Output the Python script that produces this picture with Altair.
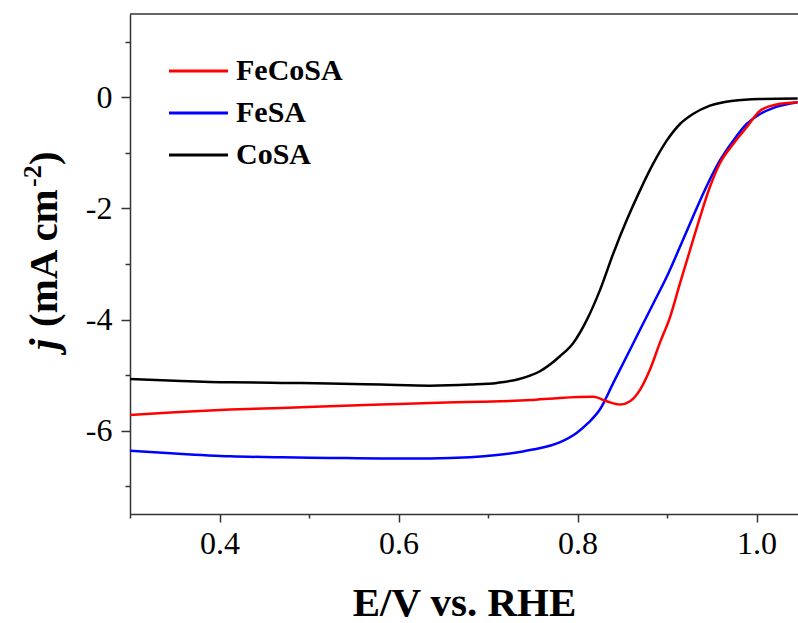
import altair as alt
import pandas as pd

# ---- data ----
co_E = [0.300, 0.350, 0.412, 0.470, 0.523, 0.580, 0.635, 0.680, 0.710, 0.735, 0.758, 0.7804, 0.7953, 0.8103, 0.8251, 0.840, 0.855, 0.870, 0.8847, 0.8997, 0.9145, 0.929, 0.948, 0.974, 1.004, 1.046]
co_j = [-5.07, -5.10, -5.13, -5.14, -5.15, -5.17, -5.19, -5.17, -5.14, -5.07, -4.93, -4.66, -4.42, -4.01, -3.47, -2.81, -2.21, -1.67, -1.19, -0.78, -0.48, -0.30, -0.15, -0.06, -0.03, -0.02]

fe_E = [0.300, 0.350, 0.412, 0.470, 0.523, 0.580, 0.635, 0.680, 0.710, 0.750, 0.780, 0.799, 0.812, 0.825, 0.840, 0.855, 0.870, 0.8847, 0.8997, 0.9145, 0.929, 0.944, 0.959, 0.974, 0.989, 1.004, 1.019, 1.046]
fe_j = [-6.36, -6.41, -6.46, -6.48, -6.49, -6.50, -6.50, -6.48, -6.44, -6.34, -6.21, -6.04, -5.86, -5.62, -5.14, -4.66, -4.18, -3.71, -3.23, -2.69, -2.15, -1.61, -1.14, -0.78, -0.48, -0.30, -0.19, -0.09]

feco_E = [0.300, 0.350, 0.412, 0.470, 0.523, 0.580, 0.635, 0.690, 0.747, 0.7804, 0.8177, 0.8326, 0.8475, 0.8587, 0.870, 0.881, 0.892, 0.9035, 0.9145, 0.9257, 0.937, 0.948, 0.959, 0.974, 0.989, 1.004, 1.022, 1.046]
feco_j = [-5.72, -5.67, -5.62, -5.59, -5.56, -5.53, -5.50, -5.48, -5.45, -5.41, -5.39, -5.47, -5.53, -5.47, -5.26, -4.90, -4.42, -3.95, -3.35, -2.75, -2.15, -1.61, -1.19, -0.84, -0.54, -0.24, -0.13, -0.09]

series_names = ["FeCoSA", "FeSA", "CoSA"]
series_colors = ["#ff0000", "#0000ff", "#000000"]

x_ticks = [0.3, 0.4, 0.5, 0.6, 0.7, 0.8, 0.9, 1.0]
y_ticks = [-7, -6, -5, -4, -3, -2, -1, 0, 1]

# ---- build table ----
rows = []
for name, E, J in [("CoSA", co_E, co_j), ("FeSA", fe_E, fe_j), ("FeCoSA", feco_E, feco_j)]:
    for i, (e, j) in enumerate(zip(E, J)):
        rows.append({"series": name, "E": e, "j": j, "i": i})
df = pd.DataFrame(rows)

W, H = 668, 500
FONT = "Liberation Serif"

x_axis = alt.Axis(
    values=x_ticks,
    labelExpr="round(datum.value*10) % 2 == 0 ? format(datum.value, '.1f') : ''",
    tickSize={"condition": {"test": "round(datum.value*10) % 2 == 0", "value": 8}, "value": 4},
    labelFont=FONT, labelFontSize=32, labelColor="black", labelPadding=6,
    domainColor="#333", domainWidth=1.5, tickColor="#333", tickWidth=1.5,
    grid=False,
    title="E/V vs. RHE", titleFont=FONT, titleFontSize=41, titleFontWeight="bold",
    titleColor="black", titleX=W / 2, titleY=101, titleBaseline="alphabetic", titleAlign="center",
)
y_axis = alt.Axis(
    values=y_ticks,
    labelExpr="datum.value % 2 == 0 ? '' + datum.value : ''",
    tickSize={"condition": {"test": "datum.value % 2 == 0", "value": 9}, "value": 5},
    labelFont=FONT, labelFontSize=32, labelColor="black", labelPadding=9,
    domainColor="#333", domainWidth=1.5, tickColor="#333", tickWidth=1.5,
    grid=False, title=None,
)

lines = alt.Chart(df).mark_line(strokeWidth=2.5, interpolate="monotone", clip=True).encode(
    x=alt.X("E:Q", scale=alt.Scale(domain=[0.3, 0.3 + W / 895.0], nice=False, zero=False), axis=x_axis),
    y=alt.Y("j:Q", scale=alt.Scale(domain=[-7.5, 1.5], nice=False, zero=False), axis=y_axis),
    color=alt.Color("series:N", scale=alt.Scale(domain=series_names, range=series_colors), legend=None),
    order="i:Q",
)

one = pd.DataFrame({"a": [0]})
top_border = alt.Chart(one).mark_rule(color="#333", strokeWidth=1.5).encode(
    x=alt.value(0), x2=alt.value(W), y=alt.value(0)
)

layers = [lines, top_border]

# legend
for k, (name, col) in enumerate(zip(series_names, series_colors)):
    yy = 57 + 42 * k
    layers.append(alt.Chart(one).mark_rule(color=col, strokeWidth=3).encode(
        x=alt.value(39), x2=alt.value(98), y=alt.value(yy)))
    layers.append(alt.Chart(one).mark_text(
        align="left", baseline="middle", font=FONT, fontSize=30, fontWeight="bold", color="black"
    ).encode(x=alt.value(106), y=alt.value(yy), text=alt.value(name)))

# y axis title pieces (rotated)
yt = dict(angle=270, align="left", baseline="alphabetic", font=FONT, fontWeight="bold", color="black")
layers.append(alt.Chart(one).mark_text(fontSize=41, fontStyle="italic", **yt).encode(
    x=alt.value(-73), y=alt.value(336), text=alt.value("j")))
layers.append(alt.Chart(one).mark_text(fontSize=41, **yt).encode(
    x=alt.value(-73), y=alt.value(313), text=alt.value("(mA cm")))
layers.append(alt.Chart(one).mark_text(fontSize=26, **yt).encode(
    x=alt.value(-89), y=alt.value(173), text=alt.value("-2")))
layers.append(alt.Chart(one).mark_text(fontSize=41, **yt).encode(
    x=alt.value(-73), y=alt.value(151), text=alt.value(")")))

chart = alt.layer(*layers).properties(
    width=W, height=H,
    autosize=alt.AutoSizeParams(type="none"),
    padding={"left": 130, "top": 14, "right": 0, "bottom": 109},
    background="white",
).configure_view(stroke=None)

chart.save("out.html", embed_options={"renderer": "svg", "actions": False})
